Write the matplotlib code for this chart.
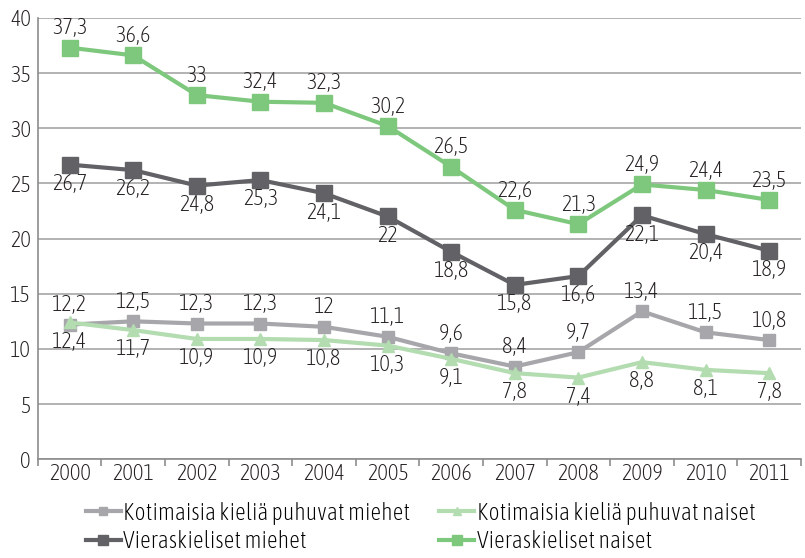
import matplotlib.pyplot as plt
import numpy as np

plt.rcParams['font.family'] = ['Asap Condensed', 'DejaVu Sans']
plt.rcParams['font.weight'] = 'light'
plt.rcParams['font.size'] = 16

years = ['2000', '2001', '2002', '2003', '2004', '2005', '2006', '2007', '2008', '2009', '2010', '2011']
kot_miehet = [12.2, 12.5, 12.3, 12.3, 12, 11.1, 9.6, 8.4, 9.7, 13.4, 11.5, 10.8]
kot_naiset = [12.4, 11.7, 10.9, 10.9, 10.8, 10.3, 9.1, 7.8, 7.4, 8.8, 8.1, 7.8]
vier_miehet = [26.7, 26.2, 24.8, 25.3, 24.1, 22, 18.8, 15.8, 16.6, 22.1, 20.4, 18.9]
vier_naiset = [37.3, 36.6, 33, 32.4, 32.3, 30.2, 26.5, 22.6, 21.3, 24.9, 24.4, 23.5]

TEXT = '#231f20'
x = np.arange(len(years))

fig = plt.figure(figsize=(8.05, 5.58), dpi=100)
ax = fig.add_axes([0.047, 0.177, 0.948, 0.791])

# (values, label, colour, marker, size, label above?)
series = [
    (kot_miehet, 'Kotimaisia kieliä puhuvat miehet', '#a7a7ab', 's', 9, True),
    (vier_miehet, 'Vieraskieliset miehet', '#616166', 's', 11, False),
    (kot_naiset, 'Kotimaisia kieliä puhuvat naiset', '#b3dcb1', '^', 9, False),
    (vier_naiset, 'Vieraskieliset naiset', '#7ec87d', 's', 11, True),
]

for vals, lab, col, mk, ms, above in series:
    ax.plot(x, vals, color=col, lw=3, marker=mk, markersize=ms, label=lab, zorder=3)
    for xi, v in zip(x, vals):
        txt = f'{v:g}'.replace('.', ',')
        ax.annotate(txt, (xi, v), xytext=(0, 6 if above else -6), textcoords='offset points',
                    ha='center', va='bottom' if above else 'top', color=TEXT, fontsize=16)

ax.set_xlim(-0.5, len(years) - 0.5)
ax.set_ylim(0, 40)
ax.set_yticks(range(0, 41, 5))
ax.set_xticks(x)
ax.set_xticklabels(years)
ax.set_xticks(np.arange(-0.5, len(years), 1), minor=True)
ax.tick_params(axis='x', which='major', length=0, pad=3, labelsize=16, labelcolor=TEXT)
ax.tick_params(axis='x', which='minor', length=5, color='#8c8c8c', width=1.2)
ax.tick_params(axis='y', length=0, pad=5, labelsize=16, labelcolor=TEXT)
ax.grid(axis='y', color='#a6a6a6', lw=1.2)
ax.set_axisbelow(True)
for s in ['top', 'right']:
    ax.spines[s].set_visible(False)
for s in ['left', 'bottom']:
    ax.spines[s].set_color('#8c8c8c')
    ax.spines[s].set_linewidth(1.2)

handles, labels = ax.get_legend_handles_labels()
fig.legend(handles, labels, loc='lower left', bbox_to_anchor=(0.08, -0.03), ncol=2,
           frameon=False, fontsize=17, handlelength=1.5, handletextpad=0.1,
           columnspacing=1.2, labelspacing=0.25, markerscale=0.7)

fig.savefig('out.png', dpi=100)
